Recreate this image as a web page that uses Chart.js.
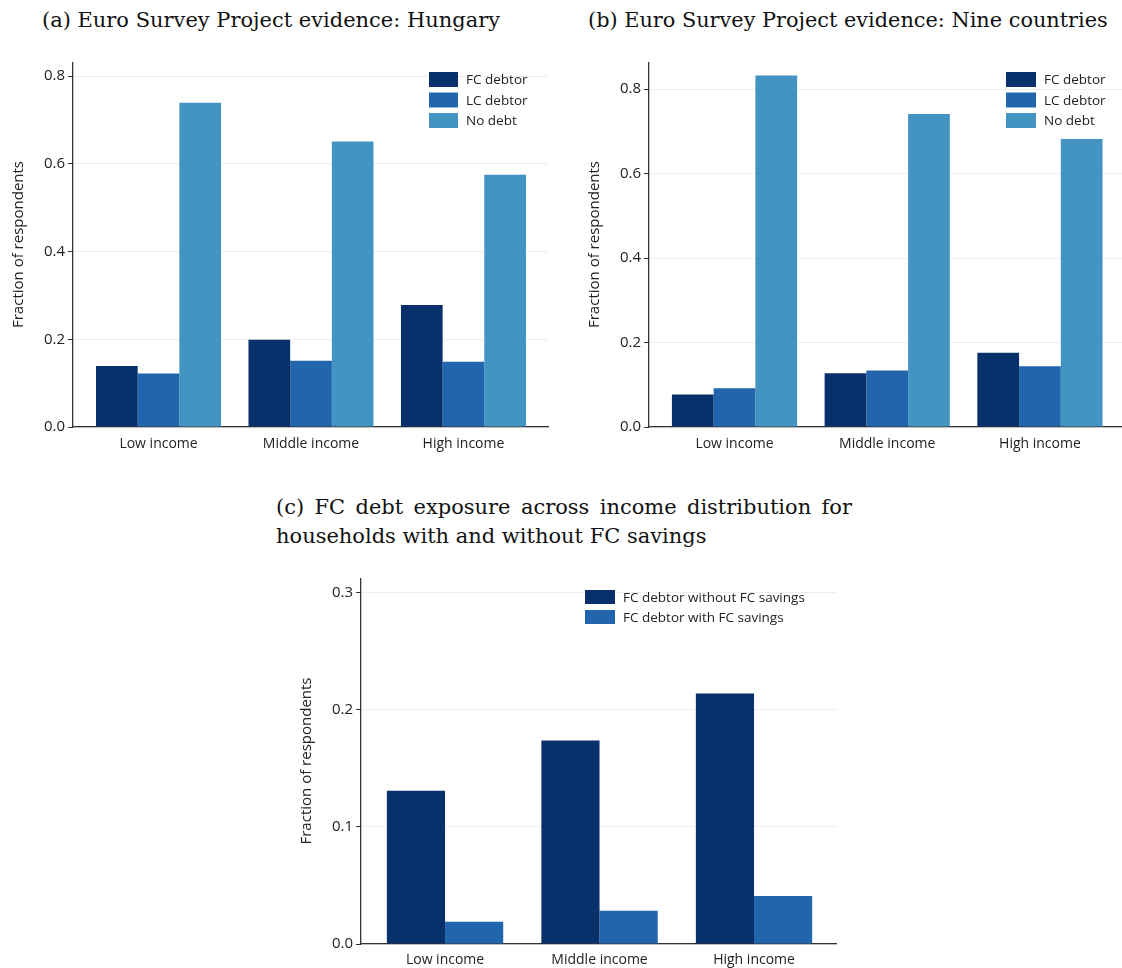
<!DOCTYPE html>
<html>
<head>
<meta charset="utf-8">
<script src="https://cdn.jsdelivr.net/npm/chart.js@4.4.1/dist/chart.umd.min.js"></script>
<style>
html, body { margin: 0; padding: 0; background: #fff; width: 1122px; height: 968px; overflow: hidden; position: relative; }
.title { position: absolute; font-family: "DejaVu Serif", serif; font-size: 19px; color: #111; white-space: nowrap; line-height: 28px; }
canvas { position: absolute; }
</style>
</head>
<body>
<div class="title" id="titleA" style="left:42px; top:6px;">(a) Euro Survey Project evidence: Hungary</div>
<div class="title" id="titleB" style="left:588px; top:6px;">(b) Euro Survey Project evidence: Nine countries</div>
<div class="title" id="titleC1" style="left:276px; top:493px; width:576px; text-align:justify; text-align-last:justify;">(c) FC debt exposure across income distribution for</div>
<div class="title" id="titleC2" style="left:276px; top:522px;">households with and without FC savings</div>

<canvas id="chartA" width="549" height="405" style="left:0px; top:62px;"></canvas>
<canvas id="chartB" width="565" height="405" style="left:560px; top:62px;"></canvas>
<canvas id="chartC" width="557" height="390" style="left:280px; top:578px;"></canvas>

<script>
// categories and series
const incomeGroups = ['Low income', 'Middle income', 'High income'];
const debtLabels = ['FC debtor', 'LC debtor', 'No debt'];
const savingsLabels = ['FC debtor without FC savings', 'FC debtor with FC savings'];

// (a) Hungary
const hungaryFC = [0.139, 0.199, 0.278];
const hungaryLC = [0.122, 0.151, 0.149];
const hungaryNoDebt = [0.739, 0.651, 0.575];

// (b) nine countries
const nineFC = [0.077, 0.127, 0.176];
const nineLC = [0.092, 0.134, 0.144];
const nineNoDebt = [0.832, 0.741, 0.682];

// (c) FC debtors by FC savings
const fcWithoutSavings = [0.131, 0.174, 0.214];
const fcWithSavings = [0.019, 0.0285, 0.041];

const yTicksAB = [0, 0.2, 0.4, 0.6, 0.8];
const yTicksC = [0, 0.1, 0.2, 0.3];

const colors = ['#08306b', '#2166ac', '#4393c3'];
const tickFont = { family: 'Open Sans', size: 14 };

// keep title widths close to the original typesetting
function fitTitle(id, target) {
    const el = document.getElementById(id);
    const w = el.scrollWidth;
    const size = parseFloat(getComputedStyle(el).fontSize);
    el.style.fontSize = (size * target / w).toFixed(2) + 'px';
}

const boxLegend = {
    id: 'boxLegend',
    afterDraw(chart, args, opts) {
        const ctx = chart.ctx;
        ctx.save();
        ctx.font = '13.5px "Open Sans"';
        ctx.textBaseline = 'middle';
        chart.data.datasets.forEach((ds, i) => {
            const y = opts.y + i * opts.gap;
            ctx.fillStyle = ds.backgroundColor;
            ctx.fillRect(opts.x, y, opts.boxW, opts.boxH);
            ctx.fillStyle = '#222';
            ctx.fillText(ds.label, opts.x + opts.boxW + 8, y + opts.boxH / 2 + 1);
        });
        ctx.restore();
    }
};

function toPoints(values) {
    return values.map((v, i) => ({ x: i, y: v }));
}

function makeChart(id, series, labels, cfg) {
    const datasets = series.map((values, i) => ({
        label: labels[i],
        data: toPoints(values),
        backgroundColor: colors[i],
        borderWidth: 0,
        categoryPercentage: cfg.groupWidth,
        barPercentage: 1.0
    }));
    return new Chart(document.getElementById(id), {
        type: 'bar',
        data: { datasets: datasets },
        plugins: [boxLegend],
        options: {
            responsive: false,
            animation: false,
            layout: { padding: 0 },
            plugins: {
                legend: { display: false },
                tooltip: { enabled: false },
                boxLegend: cfg.legend
            },
            scales: {
                x: {
                    type: 'linear',
                    offset: false,
                    min: cfg.xMin,
                    max: cfg.xMax,
                    grid: { display: false, drawTicks: false },
                    border: { display: true, color: '#333', width: 1.3 },
                    afterBuildTicks: (axis) => {
                        axis.ticks = incomeGroups.map((c, i) => ({ value: i }));
                    },
                    afterFit: (axis) => {
                        axis.height = cfg.xHeight;
                        axis.paddingLeft = 0;
                        axis.paddingRight = 0;
                    },
                    ticks: {
                        font: tickFont,
                        color: '#222',
                        padding: cfg.xPad,
                        maxRotation: 0,
                        autoSkip: false,
                        callback: (v) => incomeGroups[v]
                    }
                },
                y: {
                    min: 0,
                    max: cfg.yMax,
                    grid: { color: '#eeeeee', lineWidth: 1, tickColor: '#333', tickLength: 5 },
                    border: { display: true, color: '#333', width: 1.3 },
                    afterBuildTicks: (axis) => {
                        axis.ticks = cfg.yTicks.map(v => ({ value: v }));
                    },
                    afterFit: (axis) => {
                        axis.width = cfg.yWidth;
                        axis.paddingTop = 0;
                        axis.paddingBottom = 0;
                    },
                    ticks: {
                        font: { family: 'Open Sans', size: 15 },
                        color: '#222',
                        padding: 3,
                        callback: (v) => v.toFixed(1)
                    },
                    title: {
                        display: true,
                        text: 'Fraction of respondents',
                        font: { family: 'Open Sans', size: 15 },
                        color: '#222',
                        padding: { top: cfg.titlePad, bottom: 0 }
                    }
                }
            }
        }
    });
}

fitTitle('titleA', 458);
fitTitle('titleB', 520);
document.getElementById('titleC1').style.fontSize = document.getElementById('titleA').style.fontSize;
document.getElementById('titleC2').style.fontSize = document.getElementById('titleA').style.fontSize;

makeChart('chartA', [hungaryFC, hungaryLC, hungaryNoDebt], debtLabels, {
    xMin: -0.561, xMax: 2.561, yMax: 0.832, yTicks: yTicksAB,
    yWidth: 73, xHeight: 40, xPad: 9, groupWidth: 0.82, titlePad: 10,
    legend: { x: 429, y: 10, boxW: 29, boxH: 15, gap: 20.5 }
});

makeChart('chartB', [nineFC, nineLC, nineNoDebt], debtLabels, {
    xMin: -0.56, xMax: 2.557, yMax: 0.864, yTicks: yTicksAB,
    yWidth: 89, xHeight: 40, xPad: 9, groupWidth: 0.82, titlePad: 26,
    legend: { x: 446, y: 10, boxW: 30, boxH: 15, gap: 20.5 }
});

makeChart('chartC', [fcWithoutSavings, fcWithSavings], savingsLabels, {
    xMin: -0.544, xMax: 2.537, yMax: 0.3128, yTicks: yTicksC,
    yWidth: 81, xHeight: 24, xPad: 8, groupWidth: 0.753, titlePad: 18,
    legend: { x: 305, y: 12, boxW: 30, boxH: 14, gap: 20 }
});
</script>
</body>
</html>
